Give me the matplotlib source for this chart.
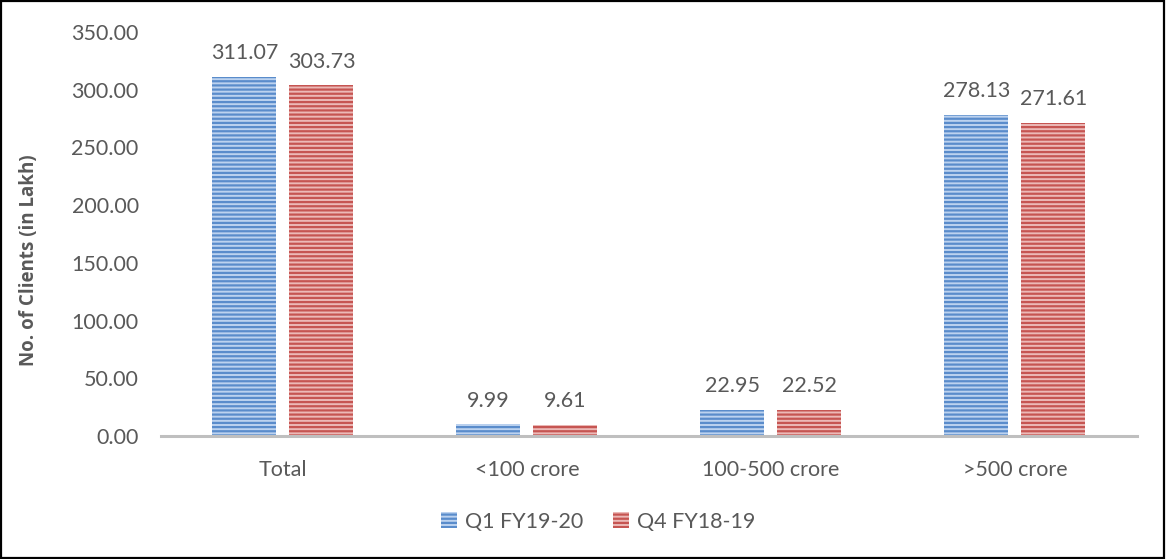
import matplotlib
matplotlib.use("Agg")
import matplotlib.pyplot as plt
import numpy as np
from matplotlib.patches import Rectangle

categories = ["Total", "<100 crore", "100-500 crore", ">500 crore"]
q1_fy1920 = [311.07, 9.99, 22.95, 278.13]
q4_fy1819 = [303.73, 9.61, 22.52, 271.61]
series_names = ["Q1 FY19-20", "Q4 FY18-19"]
yticks = [0, 50, 100, 150, 200, 250, 300, 350]

plt.rcParams["font.family"] = ["Lato", "DejaVu Sans"]
plt.rcParams["hatch.linewidth"] = 1.6
TXT = "#595959"
FS = 15.5

fig = plt.figure(figsize=(11.66, 5.59), dpi=100)
ax = fig.add_axes([0.138, 0.22, 0.837, 0.7227])

x = np.arange(len(categories))
w = 0.262
off = 0.158
styles = [("#bcd2ef", "#5a8ccb"), ("#ecb9b7", "#c65552")]
for vals, sgn, (fc, hc), name in zip([q1_fy1920, q4_fy1819], [-1, 1], styles, series_names):
    bars = ax.bar(x + sgn * off, vals, width=w, color=fc, edgecolor=hc,
                  linewidth=0, hatch="----", label=name)
    for b, v in zip(bars, vals):
        ax.text(b.get_x() + b.get_width() / 2, v + 12, f"{v:.2f}",
                ha="center", va="bottom", fontsize=FS, color=TXT)

ax.set_xlim(-0.5, len(categories) - 0.5)
ax.set_ylim(0, 350)
ax.set_yticks(yticks)
ax.set_yticklabels([f"{t:.2f}" for t in yticks], fontsize=FS, color=TXT)
ax.set_xticks(x)
ax.set_xticklabels(categories, fontsize=FS, color=TXT)
ax.tick_params(axis="both", length=0)
ax.tick_params(axis="y", pad=16)
ax.tick_params(axis="x", pad=17)
for s in ["top", "right", "left"]:
    ax.spines[s].set_visible(False)
ax.spines["bottom"].set_color("#bfbfbf")
ax.spines["bottom"].set_linewidth(2.2)

fig.text(29 / 1166, 1 - 260 / 559, "No. of Clients (in Lakh)", rotation=90,
         ha="center", va="center", fontsize=13.5, fontweight="bold", color=TXT,
         family=["Open Sans", "DejaVu Sans"])

leg = fig.legend(loc="center", bbox_to_anchor=(0.513, 0.067), ncol=2, frameon=False,
                 fontsize=FS, handlelength=0.75, handleheight=0.75, columnspacing=1.4,
                 handletextpad=0.35)
for t in leg.get_texts():
    t.set_color(TXT)

fig.patches.append(Rectangle((0.001, 0.002), 0.997, 0.996, transform=fig.transFigure,
                             fill=False, edgecolor="black", linewidth=1.6))

fig.savefig("out.png", dpi=100)
